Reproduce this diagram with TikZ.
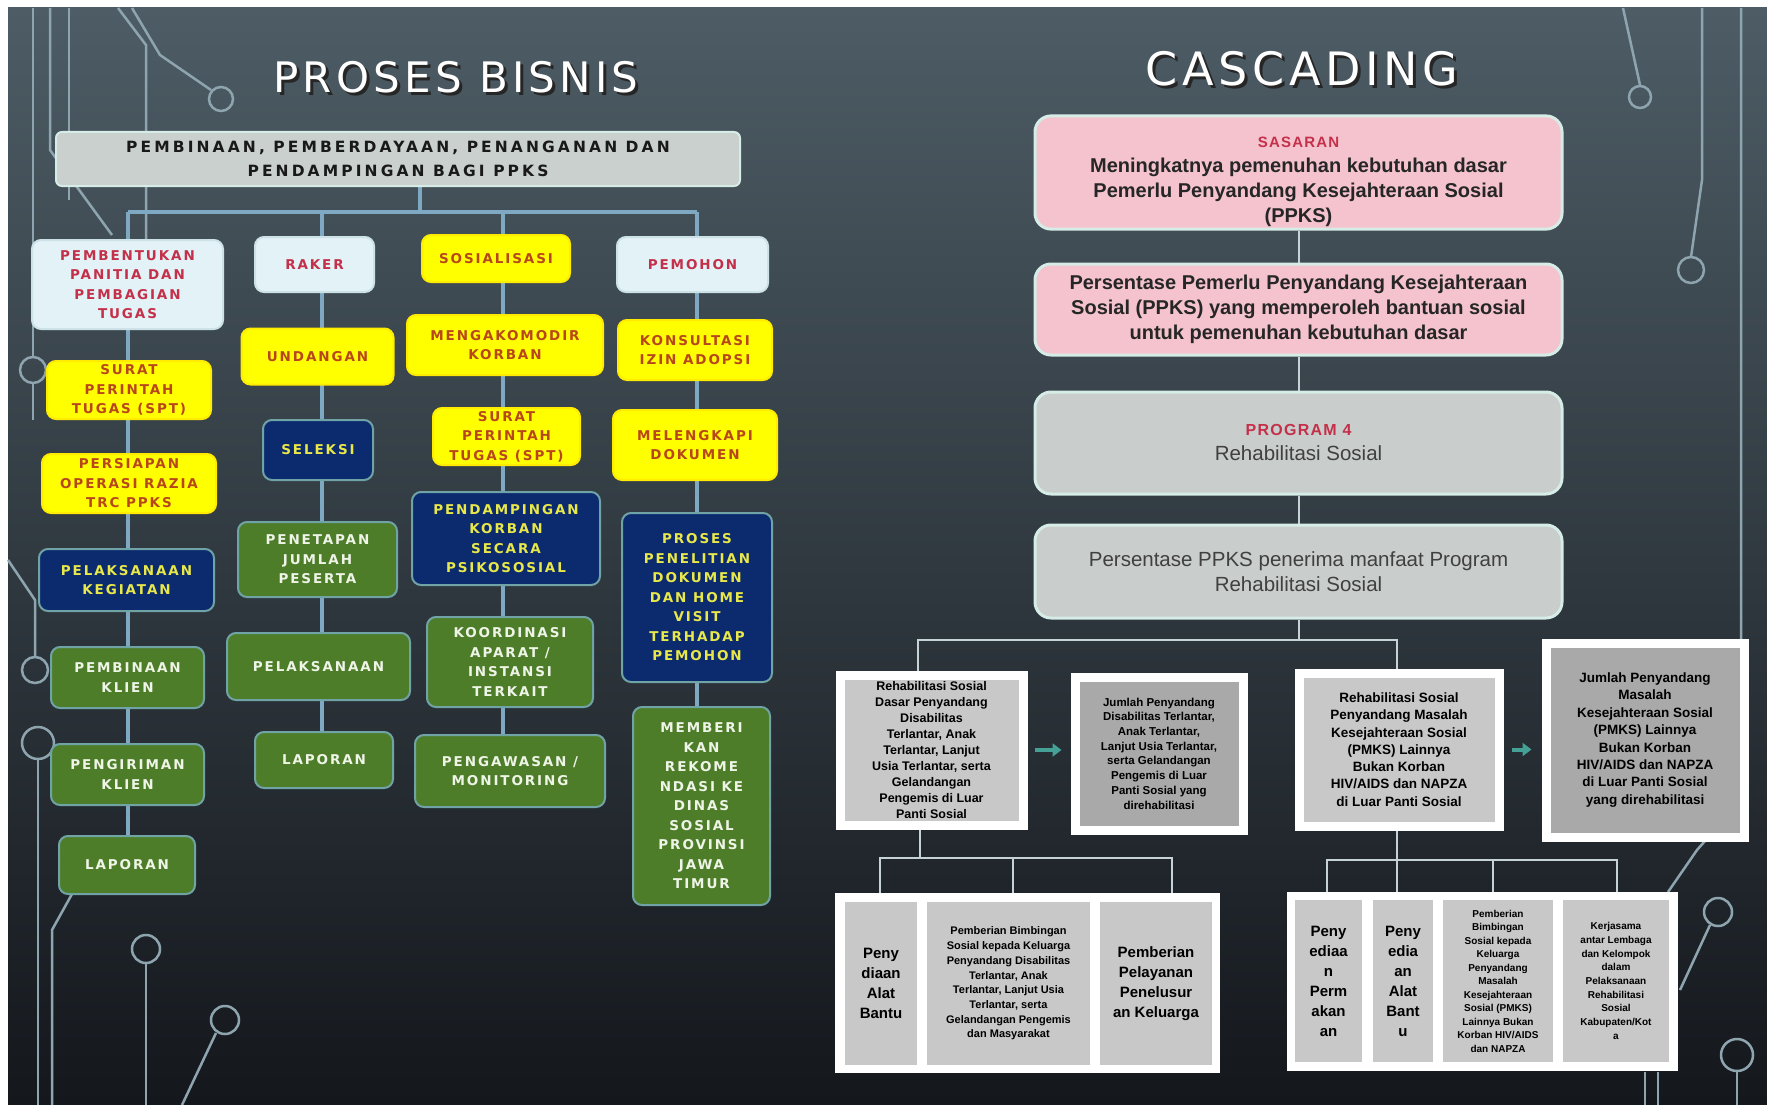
\documentclass[tikz,border=0pt]{standalone}
\usepackage{fontspec}
\setmainfont{Liberation Sans}
\newfontfamily\boxfont[LetterSpace=14]{DejaVu Sans}
\newfontfamily\headfont[LetterSpace=20]{DejaVu Sans}
\newfontfamily\titlefont[LetterSpace=10]{DejaVu Sans}
\newfontfamily\capfont[LetterSpace=8]{Liberation Sans}
\usetikzlibrary{arrows.meta}
\definecolor{bgtop}{HTML}{4D5C65}
\definecolor{bgmid}{HTML}{323B43}
\definecolor{bgbot}{HTML}{14171C}
\definecolor{deco}{HTML}{8EA5AF}
\definecolor{wire}{HTML}{7FA9C2}
\definecolor{edge}{HTML}{6FA3A6}
\definecolor{lightbg}{HTML}{E3F2F6}
\definecolor{redtxt}{HTML}{C4304A}
\definecolor{ybg}{HTML}{FFFF00}
\definecolor{ytxt}{HTML}{B8461B}
\definecolor{navy}{HTML}{0C2A6E}
\definecolor{navytxt}{HTML}{E8E84A}
\definecolor{grn}{HTML}{4E7D2A}
\definecolor{grntxt}{HTML}{EEF4E6}
\definecolor{hdrbg}{HTML}{C9D0CE}
\definecolor{pinkbg}{HTML}{F4C3CE}
\definecolor{graybg}{HTML}{C9CDCC}
\definecolor{mint}{HTML}{D6ECE6}
\definecolor{cellA}{HTML}{C8C8C8}
\definecolor{cellB}{HTML}{A9A9A9}
\definecolor{tealc}{HTML}{45A096}
\definecolor{thinwire}{HTML}{C5D2D6}
\pgfdeclarelayer{bg}
\pgfdeclarelayer{wires}
\pgfsetlayers{bg,wires,main}
\tikzset{
  lb/.style={rounded corners=9pt, draw=edge, line width=2pt, align=center, inner sep=1pt,
     font=\boxfont\bfseries\fontsize{13.5}{19.5}\selectfont},
  lightbox/.style={lb, fill=lightbg, text=redtxt, draw=lightbg!80!edge},
  ybox/.style={lb, fill=ybg, text=ytxt, draw=ybg!85!orange},
  nbox/.style={lb, fill=navy, text=navytxt},
  gbox/.style={lb, fill=grn, text=grntxt},
  conn/.style={draw=wire, line width=4pt},
  rbox/.style={rounded corners=16pt, draw=mint, line width=3pt, align=center, inner sep=2pt},
  pinkbox/.style={rbox, fill=pinkbg, text=black!85, font=\bfseries\fontsize{20}{25}\selectfont},
  greybox/.style={rbox, fill=graybg, text=black!75, font=\fontsize{20.5}{25}\selectfont},
  tw/.style={draw=thinwire, line width=2pt},
  fbox/.style={draw=white, line width=9pt, align=center, inner sep=0pt, text=black},
  cell/.style={fill=cellA, align=center, inner sep=0pt, text=black},
  whiteframe/.style={fill=white, inner sep=0pt},
  arr/.style={draw=tealc, line width=4pt, -{Triangle[length=9pt,width=13pt]}},
  dc/.style={draw=deco, line width=2.5pt},
  ttl/.style={font=\titlefont\fontsize{42}{50}\selectfont, text=white},
  shd/.style={font=\titlefont\fontsize{42}{50}\selectfont, text=black!85},
}
\begin{document}
\begin{tikzpicture}[x=1pt,y=-1pt]
\useasboundingbox (0,0) rectangle (1767,1105);
\begin{pgfonlayer}{bg}
\fill[white] (0,0) rectangle (1767,1105);
\shade[top color=bgtop, middle color=bgmid, bottom color=bgbot] (8,8) rectangle (1767,1105);
% circuit decorations
\draw[dc] (33,8) -- (33,357);
\draw[dc] (33,370) circle (13pt);
\draw[dc] (33,383) -- (33,420);
\draw[dc] (50,8) -- (50,150) -- (112,235);
\draw[dc] (69,8) -- (69,200);
\draw[dc] (118,8) -- (146,45) -- (146,240);
\draw[dc] (132,8) -- (160,55) -- (211,90);
\draw[dc] (221,99) circle (12pt);
\draw[dc] (8,560) -- (35,600) -- (35,657);
\draw[dc] (35,670) circle (13pt);
\draw[dc] (38,743) circle (16pt);
\draw[dc] (38,759) -- (38,1105);
\draw[dc] (72,894) -- (52,930) -- (52,1105);
\draw[dc] (146,949) circle (14pt);
\draw[dc] (146,963) -- (146,1105);
\draw[dc] (225,1020) circle (14pt);
\draw[dc] (216,1033) -- (182,1105);
\draw[dc] (1623,8) -- (1640,85);
\draw[dc] (1640,97) circle (11pt);
\draw[dc] (1702,8) -- (1702,180) -- (1691,257);
\draw[dc] (1691,270) circle (13pt);
\draw[dc] (1741,8) -- (1741,800) -- (1697,850) -- (1668,892);
\draw[dc] (1718,912) circle (14pt);
\draw[dc] (1710,925) -- (1680,990);
\draw[dc] (1737,1055) circle (16pt);
\draw[dc] (1737,1071) -- (1737,1105);
\draw[dc] (1645,1072) -- (1645,1105);
\draw[dc] (1658,1072) -- (1658,1105);
\end{pgfonlayer}

% titles
\node[shd] (pbs) at (459,80) {PROSES BISNIS};
\node[ttl] (pb) at (456,77) {PROSES BISNIS};
\node[shd, font=\titlefont\fontsize{46}{52}\selectfont] (cds) at (1305,72) {CASCADING};
\node[ttl, font=\titlefont\fontsize{46}{52}\selectfont] (cd) at (1302,69) {CASCADING};

% header
\node[rounded corners=6pt, fill=hdrbg, draw=mint, line width=2pt, minimum width=684pt,
  minimum height=54pt, align=center, inner sep=0pt, text=black!90,
  font=\headfont\bfseries\fontsize{15.5}{24}\selectfont] (hdr) at (398,159)
  {PEMBINAAN, PEMBERDAYAAN, PENANGANAN DAN\\PENDAMPINGAN BAGI PPKS};

% column 1
\node[lightbox, minimum width=191pt, minimum height=89pt] (p1) at (127.5,284.5) {PEMBENTUKAN\\PANITIA DAN\\PEMBAGIAN\\TUGAS};
\node[ybox, minimum width=164pt, minimum height=58pt] (p2) at (129,390) {SURAT\\PERINTAH\\TUGAS (SPT)};
\node[ybox, minimum width=174pt, minimum height=59pt] (p3) at (129,483.5) {PERSIAPAN\\OPERASI RAZIA\\TRC PPKS};
\node[nbox, minimum width=175pt, minimum height=62pt] (p4) at (126.5,580) {PELAKSANAAN\\KEGIATAN};
\node[gbox, minimum width=153pt, minimum height=61pt] (p5) at (127.5,677.5) {PEMBINAAN\\KLIEN};
\node[gbox, minimum width=153pt, minimum height=61pt] (p6) at (127.5,774.5) {PENGIRIMAN\\KLIEN};
\node[gbox, minimum width=136pt, minimum height=58pt] (p7) at (127,865) {LAPORAN};

% column 2
\node[lightbox, minimum width=119pt, minimum height=55pt] (q1) at (314.5,264.5) {RAKER};
\node[ybox, minimum width=152pt, minimum height=56pt] (q2) at (317.5,356.5) {UNDANGAN};
\node[nbox, minimum width=110pt, minimum height=60pt] (q3) at (318,450) {SELEKSI};
\node[gbox, minimum width=159pt, minimum height=75pt] (q4) at (317.5,559.5) {PENETAPAN\\JUMLAH\\PESERTA};
\node[gbox, minimum width=183pt, minimum height=67pt] (q5) at (318.5,666.5) {PELAKSANAAN};
\node[gbox, minimum width=138pt, minimum height=56pt] (q6) at (324,760) {LAPORAN};

% column 3
\node[ybox, minimum width=148pt, minimum height=47pt] (r1) at (496,258.5) {SOSIALISASI};
\node[ybox, minimum width=196pt, minimum height=60pt] (r2) at (505,345) {MENGAKOMODIR\\KORBAN};
\node[ybox, minimum width=147pt, minimum height=57pt] (r3) at (506.5,436.5) {SURAT\\PERINTAH\\TUGAS (SPT)};
\node[nbox, minimum width=188pt, minimum height=93pt] (r4) at (506,538.5) {PENDAMPINGAN\\KORBAN\\SECARA\\PSIKOSOSIAL};
\node[gbox, minimum width=166pt, minimum height=90pt] (r5) at (510,662) {KOORDINASI\\APARAT /\\INSTANSI\\TERKAIT};
\node[gbox, minimum width=190pt, minimum height=72pt] (r6) at (510,771) {PENGAWASAN /\\MONITORING};

% column 4
\node[lightbox, minimum width=151pt, minimum height=55pt] (u1) at (692.5,264.5) {PEMOHON};
\node[ybox, minimum width=154pt, minimum height=60pt] (u2) at (695,350) {KONSULTASI\\IZIN ADOPSI};
\node[ybox, minimum width=164pt, minimum height=70pt] (u3) at (695,445) {MELENGKAPI\\DOKUMEN};
\node[nbox, minimum width=150pt, minimum height=169pt] (u4) at (697,597.5) {PROSES\\PENELITIAN\\DOKUMEN\\DAN HOME\\VISIT\\TERHADAP\\PEMOHON};
\node[gbox, minimum width=137pt, minimum height=198pt] (u5) at (701.5,806) {MEMBERI\\KAN\\REKOME\\NDASI KE\\DINAS\\SOSIAL\\PROVINSI\\JAWA\\TIMUR};

% left connectors
\coordinate (t0) at (420,212);
\coordinate (t1) at (128,212);
\coordinate (t2) at (322,212);
\coordinate (t3) at (503,212);
\coordinate (t4) at (697,212);
\begin{pgfonlayer}{wires}
\draw[conn] (t1) -- (t4);
\draw[conn] (t0 |- hdr.south) -- (t0);
\draw[conn] (t1) -- (t1 |- p7.north);
\draw[conn] (t2) -- (t2 |- q6.north);
\draw[conn] (t3) -- (t3 |- r6.north);
\draw[conn] (t4) -- (t4 |- u5.north);
\end{pgfonlayer}

% right cascade
\node[pinkbox, minimum width=527pt, minimum height=101pt] (g1) at (1298.5,172.5)
  {\rule{0pt}{30pt}{\capfont\bfseries\color{redtxt}\fontsize{15}{18}\selectfont SASARAN}\\Meningkatnya pemenuhan kebutuhan dasar\\Pemerlu Penyandang Kesejahteraan Sosial\\(PPKS)};
\node[pinkbox, minimum width=527pt, minimum height=91pt] (g2) at (1298.5,309.5)
  {Persentase Pemerlu Penyandang Kesejahteraan\\Sosial (PPKS) yang memperoleh bantuan sosial\\untuk pemenuhan kebutuhan dasar};
\node[greybox, minimum width=527pt, minimum height=102pt] (g3) at (1298.5,443)
  {{\capfont\bfseries\color{redtxt}\fontsize{16}{20}\selectfont PROGRAM 4}\\Rehabilitasi Sosial};
\node[greybox, minimum width=527pt, minimum height=93pt] (g4) at (1298.5,571.5)
  {Persentase PPKS penerima manfaat Program\\Rehabilitasi Sosial};

\node[fbox, fill=cellA, minimum width=183pt, minimum height=150pt, font=\bfseries\fontsize{12.5}{16}\selectfont] (ka) at (931.5,750)
  {Rehabilitasi Sosial\\Dasar Penyandang\\Disabilitas\\Terlantar, Anak\\Terlantar, Lanjut\\Usia Terlantar, serta\\Gelandangan\\Pengemis di Luar\\Panti Sosial};
\node[fbox, fill=cellB, minimum width=168pt, minimum height=153pt, font=\bfseries\fontsize{11.5}{14.7}\selectfont] (kb) at (1159,753.5)
  {Jumlah Penyandang\\Disabilitas Terlantar,\\Anak Terlantar,\\Lanjut Usia Terlantar,\\serta Gelandangan\\Pengemis di Luar\\Panti Sosial yang\\direhabilitasi};
\node[fbox, fill=cellA, minimum width=200pt, minimum height=153pt, font=\bfseries\fontsize{13.5}{17.3}\selectfont] (kc) at (1399,749.5)
  {Rehabilitasi Sosial\\Penyandang Masalah\\Kesejahteraan Sosial\\(PMKS) Lainnya\\Bukan Korban\\HIV/AIDS dan NAPZA\\di Luar Panti Sosial};
\node[fbox, fill=cellB, minimum width=198pt, minimum height=194pt, font=\bfseries\fontsize{13.5}{17.4}\selectfont] (kd) at (1645,740)
  {Jumlah Penyandang\\Masalah\\Kesejahteraan Sosial\\(PMKS) Lainnya\\Bukan Korban\\HIV/AIDS dan NAPZA\\di Luar Panti Sosial\\yang direhabilitasi};

\draw[arr] ([xshift=7pt]ka.east) -- ([xshift=-9pt]ka.east -| kb.west);
\draw[arr] ([xshift=8pt]kc.east) -- ([xshift=-10pt]kc.east -| kd.west);

% bottom groups
\node[whiteframe, minimum width=385pt, minimum height=180pt] (E) at (1027.5,983) {};
\node[cell, minimum width=72pt, minimum height=163pt, font=\bfseries\fontsize{15}{20}\selectfont] (E1) at (881,983.5) {Peny\\diaan\\Alat\\Bantu};
\node[cell, minimum width=163pt, minimum height=163pt, font=\bfseries\fontsize{11}{14.7}\selectfont] (E2) at (1008.5,983.5)
  {Pemberian Bimbingan\\Sosial kepada Keluarga\\Penyandang Disabilitas\\Terlantar, Anak\\Terlantar, Lanjut Usia\\Terlantar, serta\\Gelandangan Pengemis\\dan Masyarakat};
\node[cell, minimum width=112pt, minimum height=163pt, font=\bfseries\fontsize{15}{20}\selectfont] (E3) at (1156,983.5) {Pemberian\\Pelayanan\\Penelusur\\an Keluarga};

\node[whiteframe, minimum width=391pt, minimum height=179pt] (F) at (1482.5,981.5) {};
\node[cell, minimum width=67pt, minimum height=162pt, font=\bfseries\fontsize{15}{20}\selectfont] (F1) at (1328.5,981) {Peny\\ediaa\\n\\Perm\\akan\\an};
\node[cell, minimum width=60pt, minimum height=162pt, font=\bfseries\fontsize{15}{20}\selectfont] (F2) at (1403,981) {Peny\\edia\\an\\Alat\\Bant\\u};
\node[cell, minimum width=110pt, minimum height=162pt, font=\bfseries\fontsize{10}{13.5}\selectfont] (F3) at (1498,981)
  {Pemberian\\Bimbingan\\Sosial kepada\\Keluarga\\Penyandang\\Masalah\\Kesejahteraan\\Sosial (PMKS)\\Lainnya Bukan\\Korban HIV/AIDS\\dan NAPZA};
\node[cell, minimum width=106pt, minimum height=162pt, font=\bfseries\fontsize{10}{13.7}\selectfont] (F4) at (1616,981)
  {Kerjasama\\antar Lembaga\\dan Kelompok\\dalam\\Pelaksanaan\\Rehabilitasi\\Sosial\\Kabupaten/Kot\\a};

% right connectors
\coordinate (m0) at (1298.5,640);
\coordinate (mA) at (918,640);
\coordinate (mC) at (1397,640);
\coordinate (nA) at (920,858);
\coordinate (e1) at (880,858);
\coordinate (e2) at (1013,858);
\coordinate (e3) at (1172,858);
\coordinate (f1) at (1327,860);
\coordinate (f2) at (1397,860);
\coordinate (f3) at (1493,860);
\coordinate (f4) at (1617,860);
\begin{pgfonlayer}{wires}
\draw[tw] (g1.south) -- (g2.north);
\draw[tw] (g2.south) -- (g3.north);
\draw[tw] (g3.south) -- (g4.north);
\draw[tw] (g4.south) -- (m0);
\draw[tw] (mA |- ka.north) -- (mA) -- (mC) -- (mC |- kc.north);
\draw[tw] (ka.south -| nA) -- (nA);
\draw[tw] (e1 |- E.north) -- (e1) -- (e3) -- (e3 |- E.north);
\draw[tw] (e2) -- (e2 |- E.north);
\draw[tw] (kc.south -| f2) -- (f2);
\draw[tw] (f1 |- F.north) -- (f1) -- (f4) -- (f4 |- F.north);
\draw[tw] (f2) -- (f2 |- F.north);
\draw[tw] (f3) -- (f3 |- F.north);
\end{pgfonlayer}
\end{tikzpicture}
\end{document}
